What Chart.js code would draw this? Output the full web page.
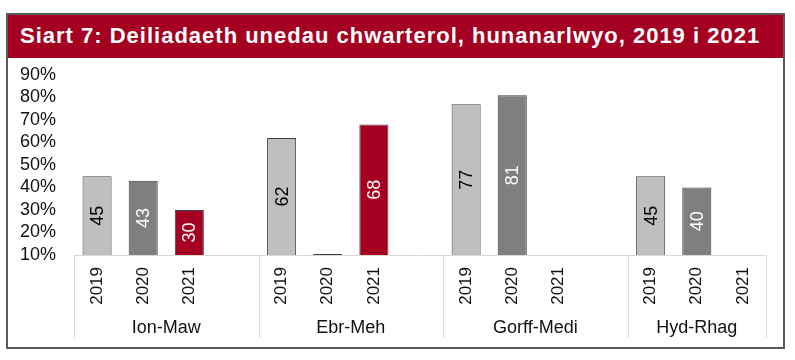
<!DOCTYPE html>
<html>
<head>
<meta charset="utf-8">
<script src="https://cdn.jsdelivr.net/npm/chart.js@4"></script>
<style>
  body { margin: 0; background: #fff; font-family: "Liberation Sans", Arial, sans-serif; }
  #frame { position: absolute; left: 6px; top: 13px; width: 775px; height: 332px; border: 2px solid #5a5a5a; }
  #title { height: 43px; background: #a50021; color: #fff; font-weight: bold; font-size: 22px; letter-spacing: 1px; line-height: 42px; padding-left: 12px; white-space: nowrap; }
  #wrap { position: relative; width: 775px; height: 289px; }
</style>
</head>
<body>
<div id="frame">
  <div id="title">Siart 7: Deiliadaeth unedau chwarterol, hunanarlwyo, 2019 i 2021</div>
  <div id="wrap"><canvas id="chart"></canvas></div>
</div>
<script>
// categories: each quarter has 2019, 2020, 2021 and one empty spacer slot
const years = ["2019","2020","2021","", "2019","2020","2021","", "2019","2020","2021","", "2019","2020","2021"]
const quarters = ["Ion-Maw","Ebr-Meh","Gorff-Medi","Hyd-Rhag"]
// occupancy %, null where there is no bar
const occupancy = [45,43,30,null, 62,10.4,68,null, 77,81,null,null, 45,40,null]
const yTicks = [10,20,30,40,50,60,70,80,90]

const yearColors = {"2019":"#bfbfbf","2020":"#7f7f7f","2021":"#a50021"}
const labelColors = {"2019":"#000","2020":"#fff","2021":"#fff"}

// numbers written sideways inside the bars
const barLabels = {
  id:"barLabels",
  afterDatasetsDraw(chart){
    const ctx = chart.ctx
    const meta = chart.getDatasetMeta(0)
    meta.data.forEach((bar,i)=>{
      const v = occupancy[i]
      if (v == null || v - 10 < 5) return
      // base sits at 0 below the axis, so clip it to the plot bottom
      const base = Math.min(bar.base, chart.chartArea.bottom)
      const mid = (bar.y + base)/2
      ctx.save()
      ctx.translate(bar.x, mid)
      ctx.rotate(-Math.PI/2)
      ctx.fillStyle = labelColors[years[i]]
      ctx.font = "18px 'Liberation Sans', Arial"
      ctx.textAlign = "center"
      ctx.textBaseline = "middle"
      ctx.fillText(Math.round(v), 0, 1)
      ctx.restore()
    })
  }
}

// quarter names and the boxes round them under the years
const quarterAxis = {
  id:"quarterAxis",
  afterDraw(chart){
    const ctx = chart.ctx
    const x = chart.scales.x
    const w = x.getPixelForValue(1) - x.getPixelForValue(0)
    const top = chart.chartArea.bottom
    const bottom = top + 83
    ctx.save()
    ctx.strokeStyle = "#d9d9d9"
    ctx.lineWidth = 1
    quarters.forEach((q,g)=>{
      const left = x.getPixelForValue(g*4) - w/2
      const right = g < quarters.length-1 ? x.getPixelForValue(g*4+3) + w/2 : x.right
      ctx.beginPath()
      ctx.moveTo(Math.round(left)+0.5, top)
      ctx.lineTo(Math.round(left)+0.5, bottom)
      ctx.moveTo(Math.round(right)+0.5, top)
      ctx.lineTo(Math.round(right)+0.5, bottom)
      ctx.stroke()
      ctx.fillStyle = "#111"
      ctx.font = "18px 'Liberation Sans', Arial"
      ctx.textAlign = "center"
      ctx.textBaseline = "middle"
      ctx.fillText(q, (left+right)/2, top + 73)
    })
    ctx.restore()
  }
}

new Chart(document.getElementById("chart"),{
  type:"bar",
  plugins:[barLabels, quarterAxis],
  data:{
    labels:years,
    datasets:[{
      data:occupancy,
      backgroundColor:years.map(y=>yearColors[y] || "#fff"),
      borderColor:"#404040",
      borderWidth:1,
      borderSkipped:"start",
      barPercentage:0.63,
      categoryPercentage:1
    }]
  },
  options:{
    responsive:true,
    maintainAspectRatio:false,
    animation:false,
    layout:{ padding:{ top:17, right:17, bottom:0, left:0 } },
    plugins:{ legend:{display:false}, tooltip:{enabled:false} },
    scales:{
      x:{
        grid:{ display:false, drawTicks:false },
        border:{ display:true, color:"#d9d9d9" },
        ticks:{ color:"#111", font:{ size:17, family:"'Liberation Sans', Arial" }, maxRotation:90, minRotation:90, padding:12, autoSkip:false },
        afterFit(s){ s.height = 92 }
      },
      y:{
        min:10, max:90,
        afterBuildTicks(s){ s.ticks = yTicks.map(v=>({value:v})) },
        // invisible tick marks keep the labels away from the plot
        grid:{ display:true, drawOnChartArea:false, drawTicks:true, tickLength:18, color:"rgba(0,0,0,0)" },
        border:{ display:false },
        ticks:{ color:"#111", font:{ size:18, family:"'Liberation Sans', Arial" }, padding:0, autoSkip:false, callback:v=>v+"%" },
        afterFit(s){ s.width = 66 }
      }
    }
  }
})
</script>
</body>
</html>
